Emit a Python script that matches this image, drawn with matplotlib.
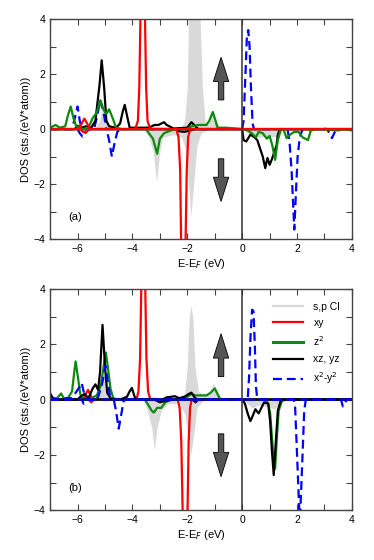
import numpy as np
import matplotlib
matplotlib.use("Agg")
from matplotlib import pyplot as plt
from matplotlib.lines import Line2D

plt.rcParams["font.family"] = ["Liberation Sans", "DejaVu Sans"]

GRAY, RED, GREEN, BLUE = "#d9d9d9", "#ff0000", "#0c8a0c", "#0000ff"

# ---- panel (a): (E - E_F, DOS) pairs, spin up / spin down -----------------
a_cl_up = [(-7, 0), (-5.4, 0), (-5.2, 0.3), (-5.1, 0.8), (-5.0, 0.3), (-4.8, 0), (-3.6, 0),
           (-3.5, 0.15), (-3.3, 0.15), (-3.1, 0.1), (-2.5, 0.05), (-2.2, 0.1), (-2.1, 0.3),
           (-2.0, 1.5), (-1.95, 4.5), (-1.55, 4.5), (-1.45, 1.5), (-1.35, 0.3), (-1.25, 0.15),
           (-1.1, 0.5), (-0.95, 0.3), (-0.8, 0.05), (0, 0), (0.2, 0.05), (1.3, 0.05), (1.4, 0), (4, 0)]
a_cl_dn = [(-7, 0), (-3.6, 0), (-3.4, -0.3), (-3.25, -0.8), (-3.12, -1.9), (-3.0, -0.8),
           (-2.9, -0.3), (-2.5, -0.2), (-2.2, -0.3), (-2.05, -0.8), (-1.95, -2.0), (-1.87, -3.2),
           (-1.77, -2.0), (-1.65, -0.6), (-1.5, -0.15), (-1.2, 0), (0, 0), (0.2, -0.15),
           (0.6, -0.3), (1.0, -0.25), (1.3, -0.3), (1.4, 0), (4, 0)]
a_xy_up = [(-7, 0), (-5.95, 0), (-5.85, 0.2), (-5.75, 0.38), (-5.65, 0.2), (-5.55, 0), (-3.9, 0),
           (-3.8, 0.3), (-3.75, 1.5), (-3.7, 4.5), (-3.55, 4.5), (-3.5, 1.5), (-3.45, 0.3),
           (-3.35, 0), (4, 0)]
a_xy_dn = [(-7, 0), (-5.9, 0), (-5.8, -0.1), (-5.7, -0.14), (-5.6, 0), (-2.4, 0), (-2.32, -0.3),
           (-2.26, -1.5), (-2.22, -4.5), (-2.07, -4.5), (-2.02, -1.5), (-1.97, -0.3), (-1.9, 0), (4, 0)]
a_z2_up = [(-7, 0.05), (-6.8, 0.15), (-6.65, 0.05), (-6.45, 0.1), (-6.35, 0.5), (-6.25, 0.82),
           (-6.15, 0.4), (-6.05, 0.1), (-5.8, 0), (-5.6, 0.05), (-5.45, 0.4), (-5.3, 0.6),
           (-5.17, 1.05), (-5.05, 0.7), (-4.95, 0.55), (-4.85, 0.72), (-4.72, 0.4), (-4.6, 0.05),
           (-4.4, 0), (-2.0, 0), (-1.85, 0.1), (-1.6, 0.15), (-1.3, 0.15), (-1.2, 0.3),
           (-1.07, 0.62), (-0.97, 0.3), (-0.9, 0.05), (-0.6, 0.05), (0, 0), (4, 0)]
a_z2_dn = [(-7, 0), (-3.5, 0), (-3.4, -0.15), (-3.25, -0.35), (-3.1, -0.9), (-3.0, -0.35),
           (-2.85, -0.15), (-2.6, -0.05), (-2.4, 0), (0, 0), (0.2, -0.05), (0.35, -0.15),
           (0.5, -0.3), (0.6, -0.1), (0.75, -0.15), (0.9, -0.35), (1.0, -0.25), (1.1, -0.6),
           (1.2, -1.12), (1.3, -0.4), (1.4, -0.05), (1.5, 0), (1.62, -0.33), (1.75, -0.2),
           (1.9, -0.1), (2.05, -0.1), (2.2, -0.3), (2.4, -0.4), (2.5, -0.05), (2.8, 0),
           (3.5, -0.05), (3.7, 0), (4, -0.05)]
a_xzyz_up = [(-7, 0), (-6.1, 0), (-6.0, 0.12), (-5.85, 0.05), (-5.7, 0.1), (-5.5, 0.05),
             (-5.35, 0.3), (-5.2, 1.6), (-5.12, 2.5), (-5.03, 1.5), (-4.95, 0.3), (-4.85, 0.1),
             (-4.6, 0.05), (-4.45, 0.2), (-4.35, 0.65), (-4.28, 0.88), (-4.2, 0.5), (-4.1, 0.05),
             (-3.4, 0.05), (-3.2, 0.15), (-3.05, 0.15), (-2.95, 0.2), (-2.85, 0.25), (-2.75, 0.15),
             (-2.5, 0.02), (-2.0, 0.05), (-1.85, 0.25), (-1.75, 0.15), (-1.6, 0), (4, 0)]
a_xzyz_dn = [(-7, 0), (-2.4, 0), (-2.3, -0.08), (-2.1, -0.1), (-1.9, -0.05), (-1.7, 0), (0, 0),
             (0.05, -0.4), (0.15, -0.45), (0.3, -0.2), (0.45, -0.3), (0.55, -0.4), (0.65, -0.7),
             (0.75, -1.0), (0.84, -1.42), (0.92, -1.05), (1.0, -1.3), (1.08, -1.1), (1.15, -0.9),
             (1.25, -0.6), (1.3, -0.2), (1.38, 0), (4, 0)]
a_x2y2_up = [(-7, 0), (-6.2, 0), (-6.1, 0.4), (-6.0, 0.82), (-5.92, 0.3), (-5.85, 0), (-5.4, 0),
             (-5.3, 0.4), (-5.17, 1.05), (-5.05, 0.6), (-4.95, 0), (0.0, 0), (0.05, 0.3),
             (0.1, 1.5), (0.17, 3.3), (0.22, 3.6), (0.27, 3.0), (0.32, 1.5), (0.38, 0.2),
             (0.43, 0), (3.0, 0), (3.1, 0.05), (3.2, 0), (4, 0)]
a_x2y2_dn = [(-7, 0), (-6.0, 0), (-5.92, -0.15), (-5.82, -0.27), (-5.7, -0.1), (-5.55, 0),
             (-4.95, 0), (-4.85, -0.4), (-4.75, -1.0), (-4.65, -0.5), (-4.55, -0.1), (-4.45, 0),
             (1.65, 0), (1.72, -0.4), (1.8, -1.5), (1.87, -3.0), (1.9, -3.65), (1.95, -2.5),
             (2.02, -1.0), (2.1, -0.3), (2.2, 0), (3.1, 0), (3.2, -0.2), (3.27, -0.33),
             (3.38, -0.1), (3.5, 0), (4, 0)]

# ---- panel (b) -------------------------------------------------------------
b_cl_up = [(-7, 0), (-5.3, 0), (-5.15, 0.4), (-5.05, 0.9), (-4.95, 0.5), (-4.8, 0), (-3.5, 0),
           (-3.3, 0.1), (-2.8, 0.05), (-2.3, 0.05), (-2.1, 0.25), (-2.0, 1.2), (-1.93, 3.0),
           (-1.87, 3.4), (-1.8, 3.0), (-1.72, 1.2), (-1.6, 0.3), (-1.4, 0.2), (-1.2, 0.25),
           (-1.05, 0.6), (-0.9, 0.3), (-0.75, 0.05), (0, 0), (4, 0)]
b_cl_dn = [(-7, 0), (-3.6, 0), (-3.45, -0.4), (-3.3, -1.0), (-3.2, -1.82), (-3.1, -1.0),
           (-2.95, -0.4), (-2.7, -0.15), (-2.3, -0.15), (-2.1, -0.5), (-1.97, -1.3), (-1.87, -2.0),
           (-1.77, -1.3), (-1.65, -0.3), (-1.4, 0), (0, 0), (0.15, -0.1), (0.35, -0.3),
           (0.6, -0.2), (0.9, -0.25), (1.2, -0.35), (1.35, -0.1), (1.5, 0), (4, 0)]
b_xy_up = [(-7, 0), (-5.8, 0), (-5.7, 0.2), (-5.62, 0.35), (-5.52, 0.15), (-5.45, 0), (-3.85, 0),
           (-3.78, 0.3), (-3.72, 1.5), (-3.67, 4.5), (-3.54, 4.5), (-3.49, 1.5), (-3.43, 0.3),
           (-3.35, 0), (4, 0)]
b_xy_dn = [(-7, 0), (-5.6, 0), (-5.5, -0.1), (-5.4, 0), (-2.35, 0), (-2.28, -0.3), (-2.22, -1.5),
           (-2.16, -4.5), (-2.0, -4.5), (-1.95, -1.5), (-1.9, -0.3), (-1.84, 0), (4, 0)]
b_z2_up = [(-7, 0), (-6.75, 0.05), (-6.6, 0.22), (-6.5, 0.05), (-6.35, 0.05), (-6.2, 0.3),
           (-6.12, 1.0), (-6.07, 1.38), (-6.0, 0.9), (-5.9, 0.2), (-5.8, 0), (-5.5, 0.05),
           (-5.3, 0.15), (-5.15, 0.5), (-5.05, 1.2), (-4.97, 1.7), (-4.9, 1.2), (-4.8, 0.4),
           (-4.7, 0.05), (-4.5, 0), (-2.5, 0), (-2.2, 0.05), (-2.0, 0.1), (-1.85, 0.2),
           (-1.7, 0.15), (-1.5, 0.15), (-1.3, 0.15), (-1.15, 0.25), (-1.0, 0.4), (-0.9, 0.2),
           (-0.8, 0), (4, 0)]
b_z2_dn = [(-7, 0), (-3.55, 0), (-3.45, -0.15), (-3.3, -0.4), (-3.22, -0.47), (-3.1, -0.3),
           (-2.95, -0.3), (-2.8, -0.1), (-2.6, 0), (0.85, 0), (0.95, -0.15), (1.02, -0.5),
           (1.08, -1.3), (1.15, -2.2), (1.2, -2.5), (1.27, -1.3), (1.33, -0.4), (1.45, -0.05),
           (1.6, 0), (4, 0)]
b_xzyz_up = [(-7, 0.22), (-6.9, 0.05), (-6.7, 0), (-6.0, 0), (-5.9, 0.1), (-5.75, 0.2),
             (-5.6, 0.05), (-5.45, 0.4), (-5.35, 0.55), (-5.25, 0.35), (-5.18, 1.0), (-5.09, 2.7),
             (-5.0, 1.2), (-4.92, 0.25), (-4.8, 0.05), (-4.6, 0), (-4.4, 0.02), (-4.2, 0.1),
             (-4.1, 0.3), (-4.02, 0.42), (-3.92, 0.1), (-3.85, 0), (-2.9, 0), (-2.75, 0.08),
             (-2.6, 0.1), (-2.45, 0.12), (-2.3, 0.05), (-2.1, 0.1), (-1.95, 0.2), (-1.85, 0.25),
             (-1.75, 0.1), (-1.65, 0), (4, 0)]
b_xzyz_dn = [(-7, 0), (-3.2, 0), (-3.0, -0.1), (-2.8, -0.05), (-2.5, 0), (-1.8, 0), (-1.7, -0.1),
             (-1.6, 0), (0, 0), (0.1, -0.15), (0.2, -0.5), (0.3, -0.78), (0.4, -0.55),
             (0.48, -0.35), (0.6, -0.5), (0.7, -0.3), (0.8, -0.1), (0.95, -0.15), (1.02, -0.8),
             (1.08, -1.8), (1.15, -2.73), (1.22, -1.6), (1.3, -0.4), (1.4, -0.05), (1.5, 0), (4, 0)]
b_x2y2_up = [(-7, 0), (-6.5, 0), (-6.4, 0.05), (-6.2, 0.05), (-6.1, 0.2), (-6.0, 0.35),
             (-5.93, 0.45), (-5.85, 0.6), (-5.78, 0.3), (-5.7, 0), (-5.35, 0), (-5.25, 0.1),
             (-5.12, 0.5), (-4.98, 1.22), (-4.88, 0.5), (-4.8, 0.05), (-4.7, 0), (0.2, 0),
             (0.25, 0.8), (0.3, 2.2), (0.36, 3.25), (0.41, 3.2), (0.46, 2.0), (0.5, 0.5),
             (0.55, 0), (4, 0)]
b_x2y2_dn = [(-7, 0), (-5.85, 0), (-5.78, -0.15), (-5.68, -0.05), (-5.6, 0), (-4.68, 0),
             (-4.6, -0.4), (-4.5, -1.05), (-4.4, -0.5), (-4.32, -0.05), (-4.25, 0), (1.88, 0),
             (1.93, -0.3), (1.98, -1.5), (2.04, -3.0), (2.1, -4.5), (2.2, -2.0), (2.26, -0.4),
             (2.32, 0), (3.6, 0), (3.67, -0.25), (3.75, -0.1), (3.82, 0), (4, 0)]

LABELS = ["s,p Cl", "xy", "z$^2$", "xz, yz", "x$^2$-y$^2$"]


def xy(pts):
    a = np.array(pts, dtype=float)
    return a[:, 0], a[:, 1]


def line(ax, pts, color, ls="-", lw=1.6):
    e, d = xy(pts)
    ax.plot(e, d, color=color, ls=ls, lw=lw, dashes=(4, 2.2) if ls == "--" else (None, None))


def gray(ax, pts):
    e, d = xy(pts)
    ax.fill_between(e, 0, d, color=GRAY, lw=0)


def arrows(ax, up0, dn0):
    kw = dict(width=0.2, head_width=0.56, head_length=0.88, length_includes_head=True,
              fc="#555555", ec="black", lw=0.6, zorder=6)
    ax.arrow(-0.77, up0, 0, 1.55, **kw)
    ax.arrow(-0.77, dn0, 0, -1.55, **kw)


def style(ax, tag):
    ax.set_xlim(-7, 4)
    ax.set_ylim(-4, 4)
    ax.set_xticks(np.arange(-6, 5, 2))
    ax.set_xticks(np.arange(-7, 5, 1), minor=True)
    ax.set_yticks(np.arange(-4, 5, 2))
    ax.set_yticks(np.arange(-4, 5, 1), minor=True)
    ax.tick_params(which="both", direction="in", top=True, right=True, labelsize=7.5,
                   width=0.8, color="#444444", length=4)
    for s in ax.spines.values():
        s.set_linewidth(1.0)
        s.set_color("#444444")
    ax.axvline(0, color="#333333", lw=1.1, zorder=5)
    ax.set_xlabel("E-E$_F$ (eV)", fontsize=8, labelpad=2)
    ax.set_ylabel("DOS (sts./(eV*atom))", fontsize=8, labelpad=2)
    ax.text(-6.1, -3.2, tag, fontsize=8, ha="center", va="center")


fig = plt.figure(figsize=(3.74, 5.6), dpi=100)
ax1 = fig.add_axes([0.134, 0.573, 0.807, 0.393])
ax2 = fig.add_axes([0.134, 0.089, 0.807, 0.395])

# (a): red drawn last
gray(ax1, a_cl_up); gray(ax1, a_cl_dn)
line(ax1, a_x2y2_up, BLUE, "--"); line(ax1, a_x2y2_dn, BLUE, "--")
line(ax1, a_xzyz_up, "black"); line(ax1, a_xzyz_dn, "black")
line(ax1, a_z2_up, GREEN); line(ax1, a_z2_dn, GREEN)
line(ax1, a_xy_up, RED); line(ax1, a_xy_dn, RED)
arrows(ax1, 1.06, -1.08)
style(ax1, "(a)")

# (b): blue drawn last
gray(ax2, b_cl_up); gray(ax2, b_cl_dn)
line(ax2, b_xy_up, RED); line(ax2, b_xy_dn, RED)
line(ax2, b_z2_up, GREEN); line(ax2, b_z2_dn, GREEN)
line(ax2, b_xzyz_up, "black"); line(ax2, b_xzyz_dn, "black")
line(ax2, b_x2y2_up, BLUE, "--"); line(ax2, b_x2y2_dn, BLUE, "--")
arrows(ax2, 0.83, -1.24)
style(ax2, "(b)")

handles = [Line2D([], [], color=GRAY, lw=1.6), Line2D([], [], color=RED, lw=1.6),
           Line2D([], [], color=GREEN, lw=2.2), Line2D([], [], color="black", lw=1.6),
           Line2D([], [], color=BLUE, lw=1.6, ls="--", dashes=(4, 2.2))]
ax2.legend(handles, LABELS, loc="upper right", frameon=False, fontsize=7.5,
           handlelength=2.9, handletextpad=1.0, labelspacing=0.6,
           bbox_to_anchor=(0.985, 0.975), borderaxespad=0.3)

fig.savefig("out.png", dpi=100)
